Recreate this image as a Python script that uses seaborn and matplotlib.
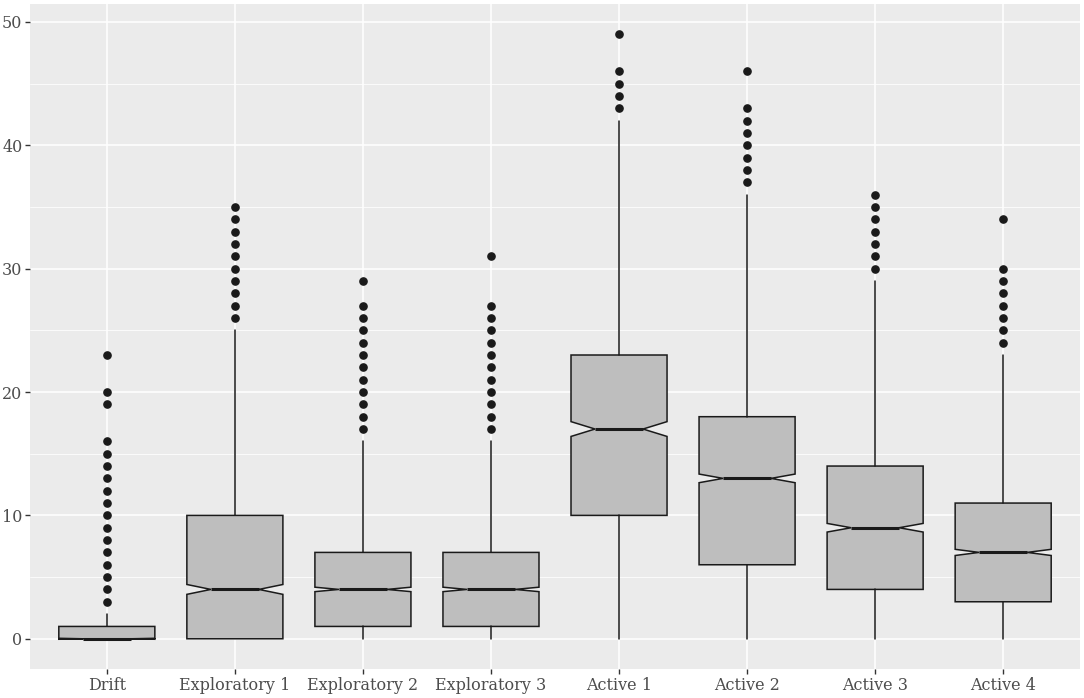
import matplotlib
matplotlib.use("Agg")
import matplotlib.pyplot as plt
import seaborn as sns

# summary statistics
groups = ["Drift", "Exploratory 1", "Exploratory 2", "Exploratory 3",
          "Active 1", "Active 2", "Active 3", "Active 4"]
whisker_low = [0, 0, 0, 0, 0, 0, 0, 0]
q1 = [0, 0, 1, 1, 10, 6, 4, 3]
median = [0, 4, 4, 4, 17, 13, 9, 7]
q3 = [1, 10, 7, 7, 23, 18, 14, 11]
whisker_high = [2, 25, 16, 16, 42, 36, 29, 23]
notch_low = [-0.04, 3.6, 3.82, 3.82, 16.4, 12.65, 8.65, 6.75]
notch_high = [0.04, 4.4, 4.18, 4.18, 17.6, 13.35, 9.35, 7.25]
outliers = [
    [3, 4, 5, 6, 7, 8, 9, 10, 11, 12, 13, 14, 15, 16, 19, 20, 23],
    [26, 27, 28, 29, 30, 31, 32, 33, 34, 35],
    [17, 18, 19, 20, 21, 22, 23, 24, 25, 26, 27, 29],
    [17, 18, 19, 20, 21, 22, 23, 24, 25, 26, 27, 31],
    [43, 44, 45, 46, 49],
    [37, 38, 39, 40, 41, 42, 43, 46],
    [30, 31, 32, 33, 34, 35, 36],
    [24, 25, 26, 27, 28, 29, 30, 34],
]

sns.set_theme(style="darkgrid", rc={
    "axes.facecolor": "#EBEBEB",
    "grid.color": "white",
    "xtick.bottom": True,
    "ytick.left": True,
})
plt.rcParams["font.family"] = ["DejaVu Serif"]

stats = []
for i, name in enumerate(groups):
    stats.append({
        "label": name,
        "whislo": whisker_low[i],
        "q1": q1[i],
        "med": median[i],
        "q3": q3[i],
        "whishi": whisker_high[i],
        "cilo": notch_low[i],
        "cihi": notch_high[i],
        "fliers": outliers[i],
    })

fig = plt.figure(figsize=(10.84, 6.98), dpi=100)
ax = fig.add_axes([30 / 1084, 29 / 698, 1050 / 1084, 665 / 698])

ax.bxp(stats, positions=range(len(groups)), widths=0.75, shownotches=True,
       patch_artist=True, showcaps=False,
       boxprops=dict(facecolor="#BEBEBE", edgecolor="#1A1A1A", linewidth=1.1),
       whiskerprops=dict(color="#1A1A1A", linewidth=1.1),
       medianprops=dict(color="#1A1A1A", linewidth=2.2),
       flierprops=dict(marker="o", markerfacecolor="#1A1A1A",
                       markeredgecolor="#1A1A1A", markersize=5.2))

ax.set_xlim(-0.6, len(groups) - 0.4)
ax.set_ylim(-2.45, 51.45)
ax.set_yticks([0, 10, 20, 30, 40, 50])
ax.set_yticks([5, 15, 25, 35, 45], minor=True)
ax.set_xticks(range(len(groups)))
ax.set_xticklabels(groups)
ax.grid(True, which="major", color="white", linewidth=1.1)
ax.grid(True, which="minor", axis="y", color="white", linewidth=0.55)
ax.set_axisbelow(True)
ax.tick_params(axis="both", which="major", length=3.5, width=1.0,
               color="#333333", labelcolor="#4D4D4D", labelsize=11.5, pad=2)
ax.tick_params(axis="both", which="minor", length=0)
for spine in ax.spines.values():
    spine.set_visible(False)

fig.savefig("out.png", dpi=100)
